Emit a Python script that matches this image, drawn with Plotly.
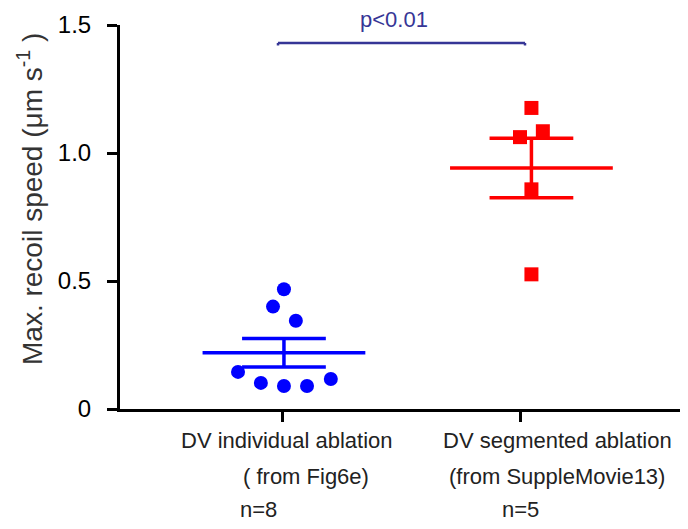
import numpy as np
import plotly.graph_objects as go

# ---- data ----
groups = ["DV individual ablation", "DV segmented ablation"]
blue_values = [0.468, 0.400, 0.345, 0.145, 0.102, 0.090, 0.090, 0.117]
blue_jitter = [0.0, -0.046, 0.05, -0.193, -0.097, 0.0, 0.097, 0.197]
red_values = [1.176, 1.062, 1.085, 0.858, 0.526]
red_jitter = [0.0, -0.048, 0.048, 0.0, 0.0]
label_line1 = ["DV individual ablation", "DV segmented ablation"]
label_line2 = ["( from Fig6e)", "(from SuppleMovie13)"]
label_line3 = ["n=8", "n=5"]
y_ticks = [0, 0.5, 1.0, 1.5]
y_ticktext = ["0", "0.5", "1.0", "1.5"]
p_text = "p<0.01"

FONT = "Liberation Sans, Arial, sans-serif"
tick_pos = [1.0, 2.0]
centers = [1.008, 2.048]
colors = ["#0000FF", "#FF0000"]

# page body has an 8px margin: plot area target pixels (in the 688x529 window)
PL, PR, PT, PB = 120, 688, 25, 409
XR = [0.319, 2.706]


def xpaper(px):
    return (px - PL) / (PR - PL)


def ypaper(py):
    return (PB - py) / (PB - PT)


fig = go.Figure()

for vals, jit, c, col, sym, size in [
    (blue_values, blue_jitter, centers[0], colors[0], "circle", 14),
    (red_values, red_jitter, centers[1], colors[1], "square", 14),
]:
    v = np.array(vals)
    mean = v.mean()
    sem = v.std(ddof=1) / np.sqrt(len(v))
    lw = 3.5
    fig.add_trace(go.Scatter(x=[c - 0.342, c + 0.342], y=[mean, mean], mode="lines",
                             line=dict(color=col, width=lw), showlegend=False, hoverinfo="skip"))
    fig.add_trace(go.Scatter(x=[c, c], y=[mean - sem, mean + sem], mode="lines",
                             line=dict(color=col, width=lw), showlegend=False, hoverinfo="skip"))
    for yy in (mean - sem, mean + sem):
        fig.add_trace(go.Scatter(x=[c - 0.176, c + 0.176], y=[yy, yy], mode="lines",
                                 line=dict(color=col, width=lw), showlegend=False, hoverinfo="skip"))
    fig.add_trace(go.Scatter(x=[c + j for j in jit], y=vals, mode="markers",
                             marker=dict(color=col, symbol=sym, size=size, line=dict(width=0)),
                             showlegend=False, cliponaxis=False))

# significance bracket
bc = "#363696"
fig.add_shape(type="line", x0=0.983, x1=2.021, y0=1.43, y1=1.43, xref="x", yref="y",
              line=dict(color=bc, width=2.5))
for xx in (0.983, 2.021):
    fig.add_shape(type="line", x0=xx, x1=xx, y0=1.43, y1=1.42, xref="x", yref="y",
                  line=dict(color=bc, width=2.5))
fig.add_annotation(x=xpaper(394), y=ypaper(19), xref="paper", yref="paper", text=p_text,
                   showarrow=False, xanchor="center", yanchor="middle",
                   font=dict(family=FONT, size=22, color=bc))

# x labels as annotations
offs1 = [287, 557.5]
offs2 = [306, 557]
offs3 = [258, 520]
for i in range(2):
    for txt, xx, ypix in [(label_line1[i], offs1[i], 440), (label_line2[i], offs2[i], 476),
                          (label_line3[i], offs3[i], 509)]:
        fig.add_annotation(x=xpaper(xx), y=ypaper(ypix), xref="paper", yref="paper", text=txt,
                           showarrow=False, yanchor="middle", xanchor="center",
                           font=dict(family=FONT, size=22, color="#222222"))

# y title
fig.add_annotation(xref="paper", yref="paper", x=xpaper(30), y=ypaper(199),
                   text="Max. recoil speed (μm s<sup>-1</sup> )", textangle=-90, showarrow=False,
                   xanchor="center", yanchor="middle",
                   font=dict(family=FONT, size=28, color="#333333"))

fig.update_xaxes(range=XR, tickvals=tick_pos, showticklabels=False,
                 showline=True, linecolor="black", linewidth=3, ticks="outside",
                 ticklen=10, tickwidth=3, tickcolor="black", showgrid=False, zeroline=False)
fig.update_yaxes(range=[0, 1.5], tickvals=y_ticks, ticktext=y_ticktext,
                 showline=True, linecolor="black", linewidth=3, ticks="outside",
                 ticklen=10, tickwidth=3, tickcolor="black", showgrid=False, zeroline=False,
                 ticklabelstandoff=11,
                 tickfont=dict(family=FONT, size=24, color="black"))

fig.update_layout(width=680, height=521, margin=dict(l=PL - 8, r=0, t=PT - 8, b=529 - PB),
                  plot_bgcolor="white", paper_bgcolor="white", showlegend=False)

fig.write_html("out.html")
